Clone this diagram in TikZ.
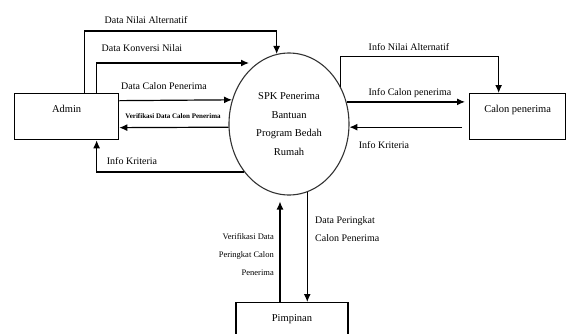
\documentclass[tikz,border=0pt]{standalone}
\usepackage{fontspec}
\setmainfont{Liberation Serif}
\usetikzlibrary{arrows.meta,shapes.geometric,calc}

\begin{document}
\begin{tikzpicture}[x=1pt, y=-1pt,
            every node/.style={font=\fontsize{10}{12}\selectfont},
            box/.style={draw, line width=1.3pt, rectangle, inner ysep=10pt,
                        text height=9pt, text depth=17pt,
                        font=\fontsize{10.5}{12}\selectfont},
            proc/.style={draw=black!80, line width=1.1pt, ellipse, inner sep=0pt,
                         minimum width=120pt, minimum height=142pt, align=center,
                         font=\fontsize{10.5}{18.7}\selectfont},
            flow/.style={draw, line width=1.2pt, -{Latex[length=8pt,width=7pt]}},
            lbl/.style={inner sep=0pt}]
        \useasboundingbox (0,0) rectangle (566,333);
        \clip (0,0) rectangle (566,333);

        % entitas dan proses
        \node[box, anchor=north west, minimum width=104pt] (admin) at (14,93) {Admin};
        \node[proc] (spk) at (289,124) {SPK Penerima\\Bantuan\\Program Bedah\\Rumah};
        \node[box, anchor=north west, minimum width=96pt] (calon) at (469,93) {Calon penerima};
        \node[box, anchor=north, minimum width=112pt] (pimp) at (292,302) {Pimpinan};

        \coordinate (konv) at (249,63);
        \coordinate (verUp) at ([xshift=-12pt]pimp.north);

        % admin
        \draw[flow] ([xshift=18pt]admin.north) -- ++(0,-62) -| (spk.100);
        \draw[flow] ([xshift=30pt]admin.north) |- (konv);
        \draw[flow] ([yshift=16pt]admin.east) -- (spk.157);
        \draw[flow] (spk.183) -- ([yshift=-11pt]admin.east);
        \draw[flow] (spk.227) -| ([xshift=30pt]admin.south);

        % calon penerima
        \draw[flow] (spk.36) -- ++(0,-30) -| ([xshift=-19pt]calon.north);
        \draw[flow, shorten >=4pt] (spk.21) -- (spk.21 -| calon.west);
        \draw[flow, shorten <=7pt] (calon.west |- spk.357) -- (spk.357);

        % pimpinan
        \draw[flow] (spk.285) -- (spk.285 |- pimp.north);
        \draw[flow, shorten >=6pt] (verUp) -- (verUp |- spk.south);

        % label aliran
        \node[lbl] (tNilai) at (146,20) {Data Nilai Alternatif};
        \node[lbl] (tKonv) at (142,48) {Data Konversi Nilai};
        \node[lbl] (tCalon) at (164,86) {Data Calon Penerima};
        \node[lbl, font=\fontsize{7}{9}\selectfont\bfseries] (tVerCalon) at (173,116) {Verifikasi Data Calon Penerima};
        \node[lbl] (tKritA) at (132,161) {Info Kriteria};
        \node[lbl] (tInfoNilai) at (409,47) {Info Nilai Alternatif};
        \node[lbl] (tInfoCalon) at (410,93) {Info Calon penerima};
        \node[lbl] (tKritB) at (384,145) {Info Kriteria};
        \node[lbl, anchor=west, align=left, font=\fontsize{10}{18}\selectfont] (tPeringkat) at (315,229) {Data Peringkat\\Calon Penerima};
        \node[lbl, anchor=east, align=right, font=\fontsize{8.5}{18}\selectfont] (tVerPeringkat) at (274,255) {Verifikasi Data\\Peringkat Calon\\Penerima};
\end{tikzpicture}
\end{document}
